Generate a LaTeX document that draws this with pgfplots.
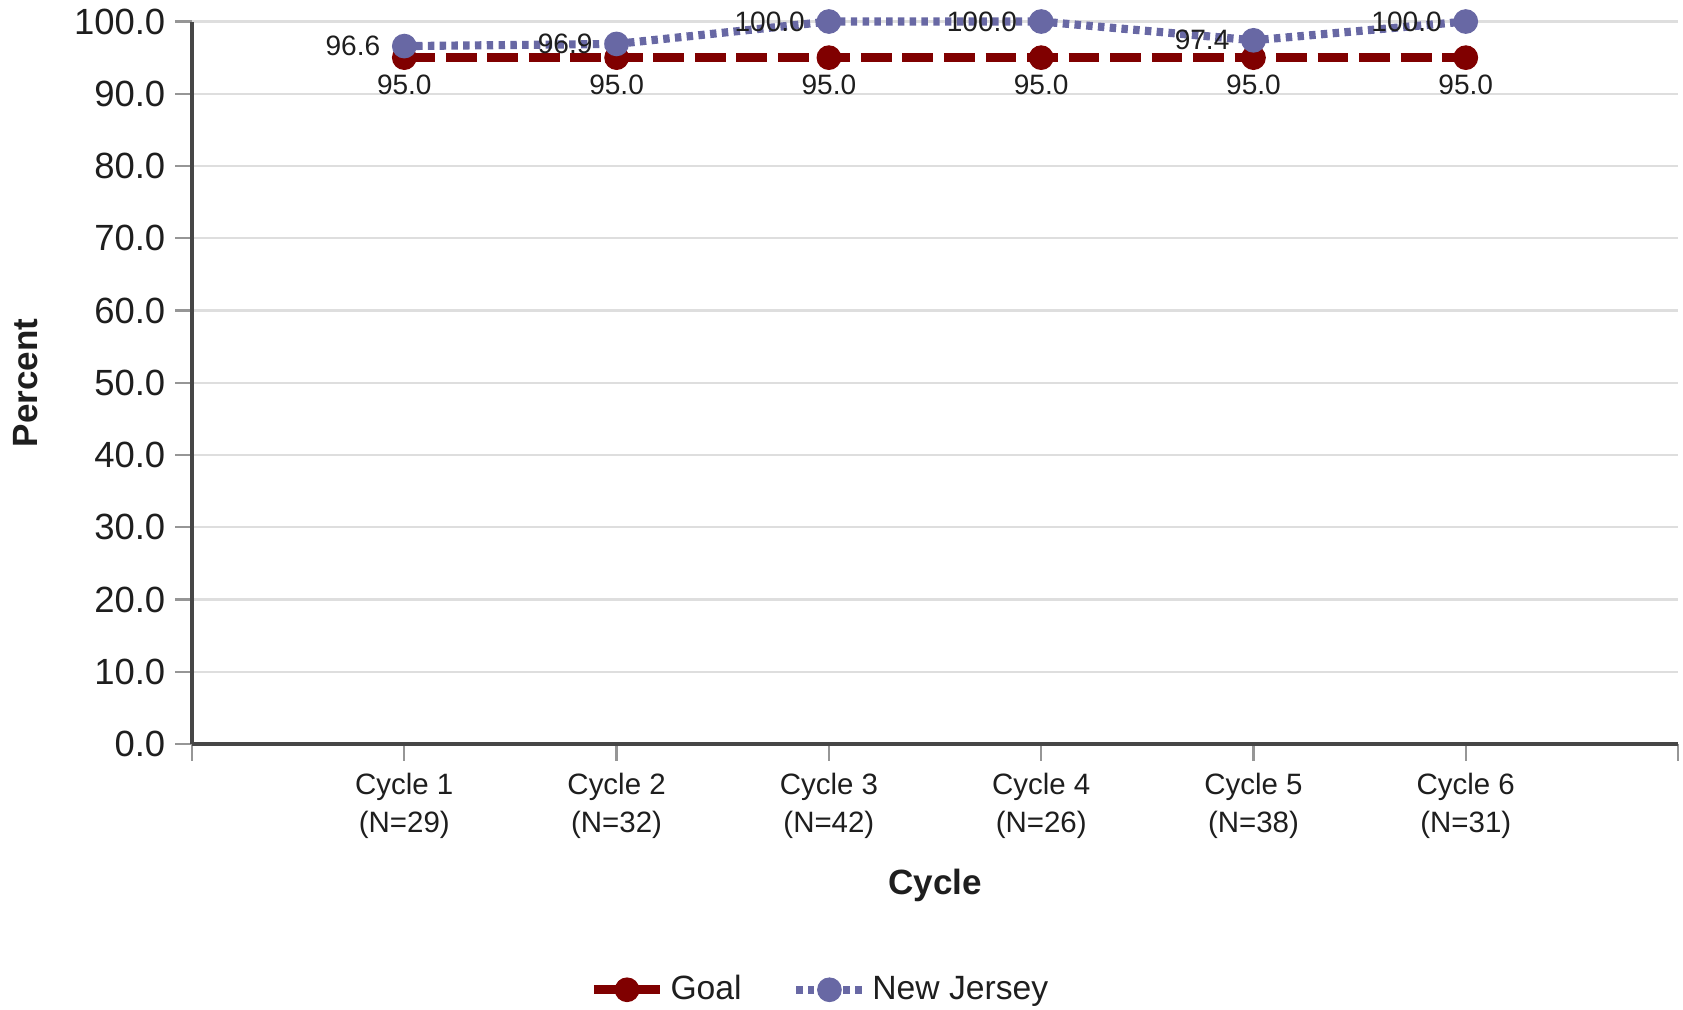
\documentclass[border=0pt]{standalone}
\usepackage{fontspec}
\setmainfont{Liberation Sans}
\usepackage{pgfplots}
\pgfplotsset{compat=1.18}
\definecolor{goalred}{RGB}{128,0,0}
\definecolor{njblue}{RGB}{104,104,164}
\definecolor{axisgray}{RGB}{70,70,70}
\definecolor{tickgray}{RGB}{150,150,150}
\definecolor{gridgray}{RGB}{222,222,222}
\definecolor{labelgray}{RGB}{30,30,30}

\begin{document}
\begin{tikzpicture}
\begin{axis}[
  scale only axis,
  width=529.8pt, height=257.6pt,
  xmin=0, xmax=7, ymin=0, ymax=100,
  xtick={0,...,7},
  xticklabels={,{Cycle 1\\(N=29)},{Cycle 2\\(N=32)},{Cycle 3\\(N=42)},{Cycle 4\\(N=26)},{Cycle 5\\(N=38)},{Cycle 6\\(N=31)},},
  ytick={0,10,...,100},
  axis lines*=left,
  axis line style={axisgray, line width=1.2pt},
  tick align=outside,
  major tick length=6pt,
  tick style={tickgray, line width=0.8pt},
  ymajorgrids,
  grid style={gridgray, line width=0.8pt},
  xticklabel style={align=center, text=labelgray, font=\fontsize{10.5}{13.8}\selectfont, yshift=-0.7pt},
  yticklabel style={text=labelgray, font=\fontsize{13}{15}\selectfont,
    /pgf/number format/fixed, /pgf/number format/fixed zerofill,
    /pgf/number format/precision=1, /pgf/number format/assume math mode=true},
  xlabel={Cycle},
  ylabel={Percent},
  xlabel style={at={(axis description cs:0.5,-0.1957)}, anchor=center,
    font=\bfseries\fontsize{12.5}{15}\selectfont, text=labelgray},
  ylabel style={at={(axis description cs:-0.1117,0.5)}, anchor=center,
    font=\bfseries\fontsize{12.5}{15}\selectfont, text=labelgray},
  legend style={at={(0.4236,-0.340)}, anchor=center, draw=none, fill=none,
    font=\fontsize{12}{14}\selectfont, text=labelgray,
    /tikz/every even column/.append style={column sep=16pt}},
  legend columns=2,
  legend cell align=left,
  legend image code/.code={\draw[mark repeat=2,mark phase=2,#1]
    plot coordinates {(0pt,0pt) (11.85pt,0pt) (23.7pt,0pt)};},
  clip=false,
]
\addplot[goalred, line width=3.3pt, dash pattern=on 11pt off 3.8pt,
  mark=*, mark size=4.2pt, mark options={solid, line width=0.4pt, fill=goalred},
  point meta=y,
  nodes near coords={\pgfmathprintnumber[fixed,fixed zerofill,precision=1,assume math mode=true]{\pgfplotspointmeta}},
  nodes near coords style={anchor=north, yshift=-6pt, inner sep=0pt, text=labelgray,
    font=\fontsize{10}{12}\selectfont}]
  coordinates {(1,95) (2,95) (3,95) (4,95) (5,95) (6,95)};
\addlegendentry{Goal}
\addplot[njblue, line width=2.9pt, dash pattern=on 2.3pt off 1.9pt,
  mark=*, mark size=4.2pt, mark options={solid, line width=0.4pt, fill=njblue},
  point meta=y,
  nodes near coords={\pgfmathprintnumber[fixed,fixed zerofill,precision=1,assume math mode=true]{\pgfplotspointmeta}},
  nodes near coords style={anchor=east, xshift=-8.4pt, inner sep=0pt, text=labelgray,
    font=\fontsize{10}{12}\selectfont}]
  coordinates {(1,96.6) (2,96.9) (3,100) (4,100) (5,97.4) (6,100)};
\addlegendentry{New Jersey}
\end{axis}
\pgfresetboundingbox
\useasboundingbox (-68.45pt,-94.47pt) rectangle (531.55pt,265.27pt);
\end{tikzpicture}
\end{document}
